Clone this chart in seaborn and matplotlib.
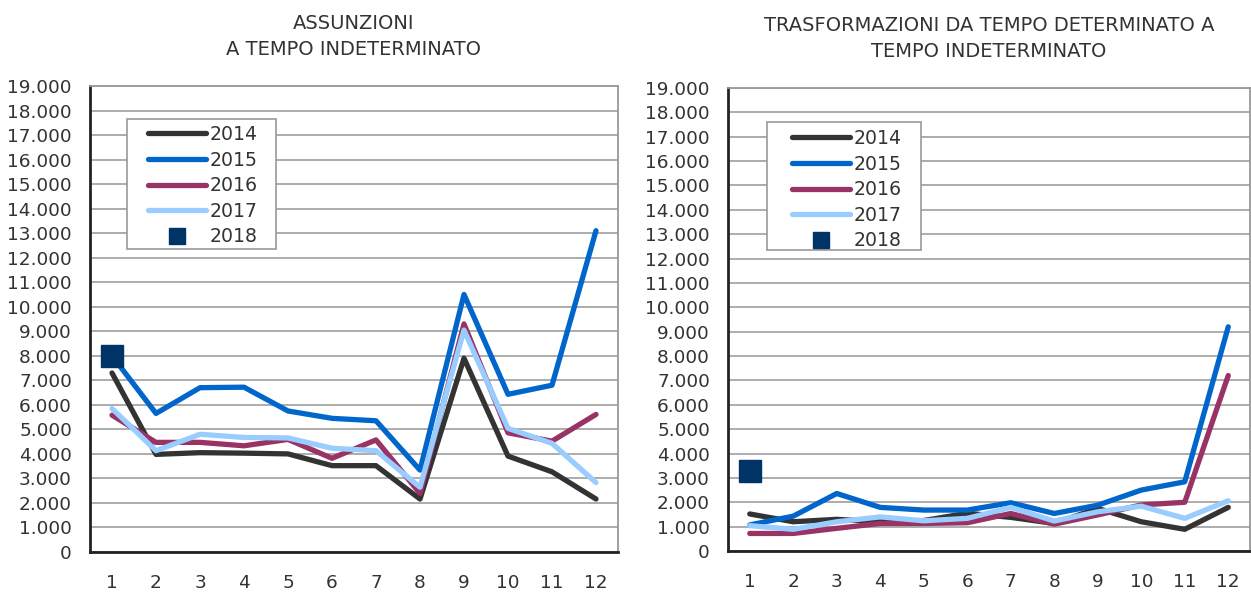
import numpy as np
import pandas as pd
import matplotlib
matplotlib.use("Agg")
import matplotlib.pyplot as plt
from matplotlib.ticker import FuncFormatter, MultipleLocator, FixedLocator
from matplotlib.lines import Line2D
from matplotlib.patches import Rectangle
import seaborn as sns

# Dati (mesi 1-12)
mesi = list(range(1, 13))
anni = ["2014", "2015", "2016", "2017"]

# Assunzioni a tempo indeterminato
ass_2014 = [7300, 3980, 4050, 4030, 4000, 3520, 3520, 2160, 7900, 3910, 3270, 2160]
ass_2015 = [8000, 5650, 6700, 6720, 5750, 5450, 5350, 3340, 10500, 6430, 6800, 13100]
ass_2016 = [5580, 4470, 4470, 4330, 4590, 3820, 4570, 2390, 9300, 4860, 4520, 5610]
ass_2017 = [5850, 4130, 4800, 4670, 4650, 4230, 4130, 2640, 9050, 5040, 4430, 2830]
ass_2018 = [8000]

# Trasformazioni da tempo determinato a tempo indeterminato
tra_2014 = [1520, 1200, 1300, 1200, 1250, 1550, 1380, 1130, 1750, 1200, 890, 1790]
tra_2015 = [1070, 1430, 2360, 1790, 1680, 1680, 1980, 1540, 1880, 2500, 2840, 9200]
tra_2016 = [720, 720, 930, 1130, 1130, 1160, 1540, 1100, 1480, 1890, 2000, 7200]
tra_2017 = [1040, 890, 1200, 1400, 1240, 1340, 1790, 1230, 1610, 1840, 1340, 2060]
tra_2018 = [3300]

titoli = ["ASSUNZIONI\nA TEMPO INDETERMINATO",
          "TRASFORMAZIONI DA TEMPO DETERMINATO A\nTEMPO INDETERMINATO"]

colori = {"2014": "#333333", "2015": "#0066CC", "2016": "#993366", "2017": "#99CCFF"}
colore_2018 = "#003366"


def long_df(serie):
    righe = []
    for anno, valori in zip(anni, serie):
        for m, v in zip(mesi, valori):
            righe.append({"mese": m, "valore": v, "anno": anno})
    return pd.DataFrame(righe)


sns.set_style("white")
plt.rcParams["font.family"] = ["DejaVu Sans"]
plt.rcParams["text.color"] = "#333333"

W, H = 1251, 594
fig = plt.figure(figsize=(W / 100, H / 100), dpi=100)
# posizioni assi in pixel: sinistra, alto, destra, basso
box1 = (90, 86, 618, 552)
box2 = (728, 88, 1250, 551)
ax1 = fig.add_axes([box1[0] / W, 1 - box1[3] / H, (box1[2] - box1[0]) / W, (box1[3] - box1[1]) / H])
ax2 = fig.add_axes([box2[0] / W, 1 - box2[3] / H, (box2[2] - box2[0]) / W, (box2[3] - box2[1]) / H])

# riquadro legenda (pixel) e ancoraggio delle voci
legende = [
    {"rect": (127, 119, 276, 249), "anchor": (148, 125)},
    {"rect": (767, 122, 921, 250), "anchor": (792, 129)},
]

dati = [
    ([ass_2014, ass_2015, ass_2016, ass_2017], ass_2018),
    ([tra_2014, tra_2015, tra_2016, tra_2017], tra_2018),
]

fmt = FuncFormatter(lambda v, p: f"{int(v):,}".replace(",", "."))

for ax, box, (serie, v2018), titolo, lg in zip([ax1, ax2], [box1, box2], dati, titoli, legende):
    df = long_df(serie)
    sns.lineplot(data=df, x="mese", y="valore", hue="anno", palette=colori,
                 linewidth=3.8, ax=ax, legend=False, zorder=3)
    ax.plot([1], v2018, linestyle="none", marker="s", markersize=16,
            color=colore_2018, zorder=4)

    ax.set_xlim(0.5, 12.5)
    ax.set_ylim(0, 19000)
    ax.yaxis.set_major_locator(MultipleLocator(1000))
    ax.yaxis.set_major_formatter(fmt)
    ax.grid(axis="y", color="#A6A6A6", linewidth=1.3, zorder=0)
    ax.set_axisbelow(True)

    ax.xaxis.set_major_locator(FixedLocator(np.arange(0.5, 13, 1)))
    ax.xaxis.set_major_formatter(FuncFormatter(lambda v, p: ""))
    ax.xaxis.set_minor_locator(FixedLocator(mesi))
    ax.xaxis.set_minor_formatter(FuncFormatter(lambda v, p: f"{int(v)}"))
    ax.tick_params(axis="x", which="major", length=5, width=1.2, color="#333333", direction="out")
    ax.tick_params(axis="x", which="minor", length=0, pad=16, labelsize=13.3, labelcolor="#333333")
    ax.tick_params(axis="y", length=5, width=1.2, color="#333333", direction="out",
                   labelsize=13.3, labelcolor="#333333", pad=8)

    for s in ["top", "right"]:
        ax.spines[s].set_color("#999999")
        ax.spines[s].set_linewidth(1.3)
    for s in ["left", "bottom"]:
        ax.spines[s].set_color("#222222")
        ax.spines[s].set_linewidth(2)

    ax.set_xlabel("")
    ax.set_ylabel("")
    ax.set_title(titolo, fontsize=14, color="#333333", pad=22, linespacing=1.5)

    # legenda: riquadro disegnato a parte, voci senza cornice
    bw = box[2] - box[0]
    bh = box[3] - box[1]
    x0, y0, x1, y1 = lg["rect"]
    ax.add_patch(Rectangle(((x0 - box[0]) / bw, 1 - (y1 - box[1]) / bh),
                           (x1 - x0) / bw, (y1 - y0) / bh, transform=ax.transAxes,
                           facecolor="white", edgecolor="#999999", linewidth=1.2, zorder=5))
    handles = [Line2D([], [], color=colori[a], linewidth=3.8, solid_capstyle="round") for a in anni]
    handles.append(Line2D([], [], linestyle="none", marker="s", markersize=11.5, color=colore_2018))
    ax_x, ax_y = lg["anchor"]
    leg = ax.legend(handles, anni + ["2018"], loc="upper left",
                    bbox_to_anchor=((ax_x - box[0]) / bw, 1 - (ax_y - box[1]) / bh),
                    borderaxespad=0, borderpad=0, fontsize=13.6, handlelength=3.07,
                    handletextpad=0.2, labelspacing=0.35, frameon=False)
    leg.set_zorder(6)
    for t in leg.get_texts():
        t.set_color("#333333")

fig.savefig("out.png", dpi=100)
